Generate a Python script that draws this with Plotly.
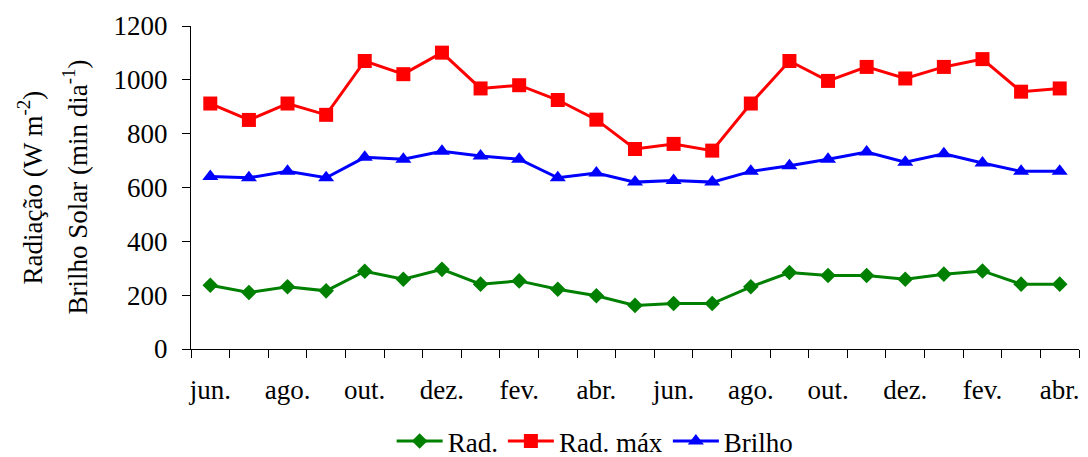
import plotly.graph_objects as go

months = ["jun.", "jul.", "ago.", "set.", "out.", "nov.", "dez.", "jan.", "fev.", "mar.", "abr.", "mai.",
          "jun.", "jul.", "ago.", "set.", "out.", "nov.", "dez.", "jan.", "fev.", "mar.", "abr."]
rad = [237, 210, 231, 216, 289, 259, 296, 241, 253, 222, 198, 162,
       169, 169, 231, 284, 273, 273, 259, 278, 290, 241, 241]
rad_max = [912, 851, 912, 870, 1070, 1021, 1101, 968, 980, 925, 852, 743,
           762, 737, 912, 1070, 996, 1048, 1005, 1048, 1077, 956, 968]
brilho = [641, 636, 660, 636, 712, 705, 735, 717, 705, 636, 654, 620,
          626, 620, 660, 681, 705, 732, 694, 725, 691, 660, 660]
y_title_lines = ["Radiação (W m<sup>-2</sup>)", "Brilho Solar (min dia<sup>-1</sup>)"]

x = list(range(len(months)))
FONT = "Times New Roman"
FS = 27

fig = go.Figure()
fig.add_trace(go.Scatter(x=x, y=rad, name="Rad.", mode="lines+markers",
                         line=dict(color="#008000", width=3),
                         marker=dict(symbol="diamond", size=12, color="#008000")))
fig.add_trace(go.Scatter(x=x, y=rad_max, name="Rad. máx", mode="lines+markers",
                         line=dict(color="#FF0000", width=3),
                         marker=dict(symbol="square", size=14, color="#FF0000")))
fig.add_trace(go.Scatter(x=x, y=brilho, name="Brilho", mode="lines+markers",
                         line=dict(color="#0000FF", width=3),
                         marker=dict(symbol="triangle-up", size=14, color="#0000FF")))

for shift, txt in zip([-161, -116], y_title_lines):
    fig.add_annotation(text=txt, xref="paper", yref="paper", x=0, y=0.5,
                       xanchor="center", yanchor="middle", xshift=shift,
                       textangle=-90, showarrow=False,
                       font=dict(family=FONT, size=FS, color="black"))

fig.update_layout(
    width=1088, height=457,
    margin=dict(l=191, r=9, t=26, b=108),
    paper_bgcolor="white", plot_bgcolor="white",
    font=dict(family=FONT, size=FS, color="black"),
    showlegend=True,
    legend=dict(orientation="h", xref="container", yref="container",
                x=0.547, xanchor="center", y=0.034, yanchor="middle",
                font=dict(family=FONT, size=FS), itemwidth=46, tracegroupgap=0,
                bgcolor="rgba(0,0,0,0)"),
    xaxis=dict(range=[-0.5, len(months) - 0.5], tickmode="array", automargin=False,
               tickvals=x[::2], ticktext=months[::2], ticks="", ticklabelstandoff=17,
               showline=True, linecolor="black", linewidth=1, showgrid=False, zeroline=False,
               tickfont=dict(family=FONT, size=FS),
               minor=dict(ticks="outside", tickmode="array",
                          tickvals=[i - 0.5 for i in range(len(months) + 1)],
                          ticklen=8, tickcolor="black", tickwidth=1, showgrid=False)),
    yaxis=dict(range=[0, 1200], dtick=200, tick0=0, ticks="outside", ticklen=8,
               tickcolor="black", showline=True, linecolor="black", linewidth=1,
               showgrid=False, zeroline=False, automargin=False, ticklabelstandoff=9,
               tickfont=dict(family=FONT, size=FS)),
)

fig.write_html("out.html", config={"displayModeBar": False},
               post_script="document.body.style.margin='0';")
